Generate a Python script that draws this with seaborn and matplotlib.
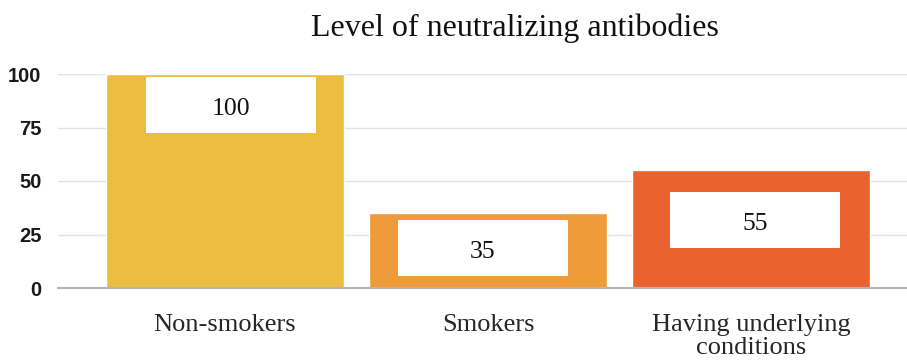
import matplotlib
matplotlib.use("Agg")
import matplotlib.pyplot as plt
from matplotlib.patches import Rectangle
import seaborn as sns
import pandas as pd

categories = ["Non-smokers", "Smokers", "Having underlying\nconditions"]
values = [100, 35, 55]
colors = ["#EDBD42", "#EF9B3A", "#EA622D"]
yticks = [0, 25, 50, 75, 100]

# placement of the white value boxes: drop below bar top (data units), x shift (category units)
box_drop = [1.4, 3.3, 10.3]
box_shift = [0.023, -0.019, 0.015]

sns.set_theme(style="white")
plt.rcParams["font.family"] = ["Liberation Serif", "DejaVu Serif"]

df = pd.DataFrame({"group": categories, "level": values})

fig = plt.figure(figsize=(9.07, 3.60), dpi=100)
ax = fig.add_axes([58 / 907, 72 / 360, (907 - 58) / 907, (288 - 74) / 360])

sns.barplot(data=df, x="group", y="level", hue="group", palette=colors,
            legend=False, width=0.905, saturation=1, ax=ax, zorder=2)

ax.set_xlim(-0.635, 2.593)
ax.set_ylim(0, 100)
ax.set_yticks(yticks)
ax.set_yticklabels([str(t) for t in yticks], family=["Liberation Sans", "DejaVu Sans"],
                   fontweight="bold", fontsize=14.5, color="#1a1a1a")
ax.yaxis.grid(True, color="#e2e2e2", linewidth=1, zorder=0)
ax.set_axisbelow(True)
for side in ["top", "right", "left"]:
    ax.spines[side].set_visible(False)
ax.spines["bottom"].set_color("#b5b5b5")
ax.spines["bottom"].set_linewidth(1.5)
ax.tick_params(axis="y", length=0, pad=12)
ax.tick_params(axis="x", length=0, pad=19, labelsize=19)
for lbl in ax.get_xticklabels():
    lbl.set_linespacing(1.05)
ax.set_xlabel("")
ax.set_ylabel("")

# White value boxes inside each bar
box_w, box_h = 0.646, 26
for patch, v, drop, dx in zip(ax.patches, values, box_drop, box_shift):
    cx = patch.get_x() + patch.get_width() / 2 + dx
    top = v - drop
    ax.add_patch(Rectangle((cx - box_w / 2, top - box_h), box_w, box_h,
                           facecolor="white", edgecolor="none", zorder=3))
    ax.text(cx, top - box_h / 2 - 2, str(v), ha="center", va="center",
            fontsize=18.5, color="#111111", zorder=4)

fig.text(515 / 907, 1 - 28 / 360, "Level of neutralizing antibodies",
         ha="center", va="center", fontsize=23, color="#111111")

fig.savefig("out.png", dpi=100)
